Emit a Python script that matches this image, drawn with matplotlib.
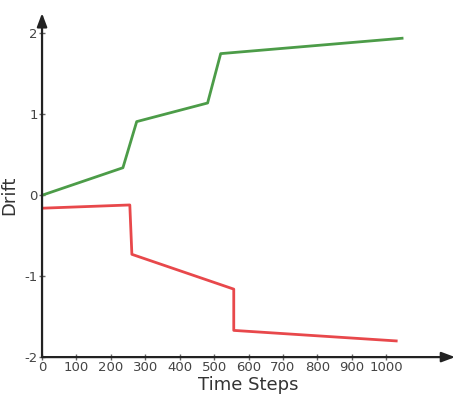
import matplotlib.pyplot as plt

plt.rcParams['axes.unicode_minus'] = False

# values
green_x = [0, 235, 275, 481, 519, 1046]
green_y = [0.0, 0.34, 0.91, 1.14, 1.75, 1.94]
red_x = [0, 255, 261, 557, 557, 1029]
red_y = [-0.16, -0.12, -0.73, -1.16, -1.67, -1.80]
x_ticks = list(range(0, 1001, 100))
y_ticks = [-2, -1, 0, 1, 2]

fig = plt.figure(figsize=(4.62, 3.99), dpi=100)
ax = fig.add_axes([0.091, 0.105, 0.894, 0.862])

ax.plot(green_x, green_y, color='#4c9c48', lw=2)
ax.plot(red_x, red_y, color='#e8484b', lw=2)

ax.set_xlim(0, 1200)
ax.set_ylim(-2, 2.25)
for s in ax.spines.values():
    s.set_visible(False)

# axes drawn as arrows
ax.annotate('', xy=(1, 0), xytext=(0, 0), xycoords='axes fraction',
            arrowprops=dict(arrowstyle='-|>,head_length=0.8,head_width=0.3',
                            color='#222222', lw=1.6, shrinkA=0, shrinkB=0))
ax.annotate('', xy=(0, 1), xytext=(0, 0), xycoords='axes fraction',
            arrowprops=dict(arrowstyle='-|>,head_length=0.8,head_width=0.3',
                            color='#222222', lw=1.6, shrinkA=0, shrinkB=0))

ax.set_xticks(x_ticks)
ax.set_yticks(y_ticks)
ax.tick_params(direction='inout', length=4, width=1, color='#666666',
               labelsize=9.5, labelcolor='#444444', pad=1)

ax.set_xlabel('Time Steps', fontsize=13, color='#333333', labelpad=1)
ax.set_ylabel('Drift', fontsize=13, color='#333333')
ax.yaxis.set_label_coords(-0.057, 0.47)

fig.savefig('out.png', dpi=100)
